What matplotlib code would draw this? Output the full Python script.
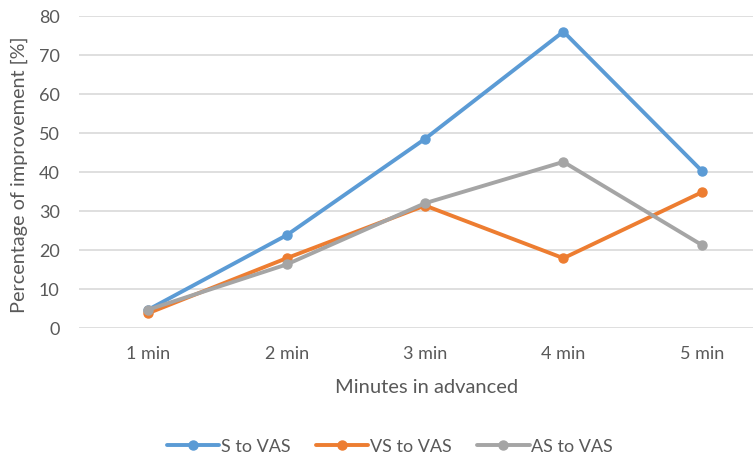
import matplotlib
matplotlib.use('Agg')
import matplotlib.pyplot as plt

# improvement per lead time, one list per comparison
minutes = ['1 min', '2 min', '3 min', '4 min', '5 min']
s_to_vas = [4.7, 23.8, 48.5, 76.0, 40.3]
vs_to_vas = [3.8, 17.9, 31.4, 17.9, 34.8]
as_to_vas = [4.7, 16.3, 32.0, 42.6, 21.3]

series = [
    ('S to VAS', s_to_vas, '#5B9BD5'),
    ('VS to VAS', vs_to_vas, '#ED7D31'),
    ('AS to VAS', as_to_vas, '#A5A5A5'),
]

plt.rcParams['font.family'] = ['Lato', 'DejaVu Sans']
text_col = '#595959'

fig = plt.figure(figsize=(7.53, 4.59), dpi=100)
ax = fig.add_axes([0.105, 0.2854, 0.895, 0.6797])

x = list(range(len(minutes)))
for name, vals, col in series:
    ax.plot(x, vals, color=col, linewidth=2.8, marker='o', markersize=6.5,
            label=name, solid_capstyle='round', zorder=3)

ax.set_ylim(0, 80)
ax.set_yticks(range(0, 81, 10))
ax.set_xlim(-0.5, 4.37)
ax.set_xticks(x)
ax.set_xticklabels(minutes)
ax.grid(axis='y', color='#D9D9D9', linewidth=1.2)
ax.set_axisbelow(True)
for s in ax.spines.values():
    s.set_visible(False)
ax.tick_params(length=0, labelsize=13, colors=text_col)
ax.tick_params(axis='x', pad=13)
ax.tick_params(axis='y', pad=14)

ax.set_xlabel('Minutes in advanced', fontsize=14.5, color=text_col)
ax.xaxis.set_label_coords(0.515, -0.165)
ax.set_ylabel('Percentage of improvement [%]', fontsize=14.3, color=text_col)
ax.yaxis.set_label_coords(-0.076, 0.49)

fig.legend(loc='center', bbox_to_anchor=(0.518, 0.027), ncol=3, frameon=False,
           fontsize=13, labelcolor=text_col, handlelength=2.9, columnspacing=1.4,
           handletextpad=0.1)

fig.savefig('out.png', dpi=100)
